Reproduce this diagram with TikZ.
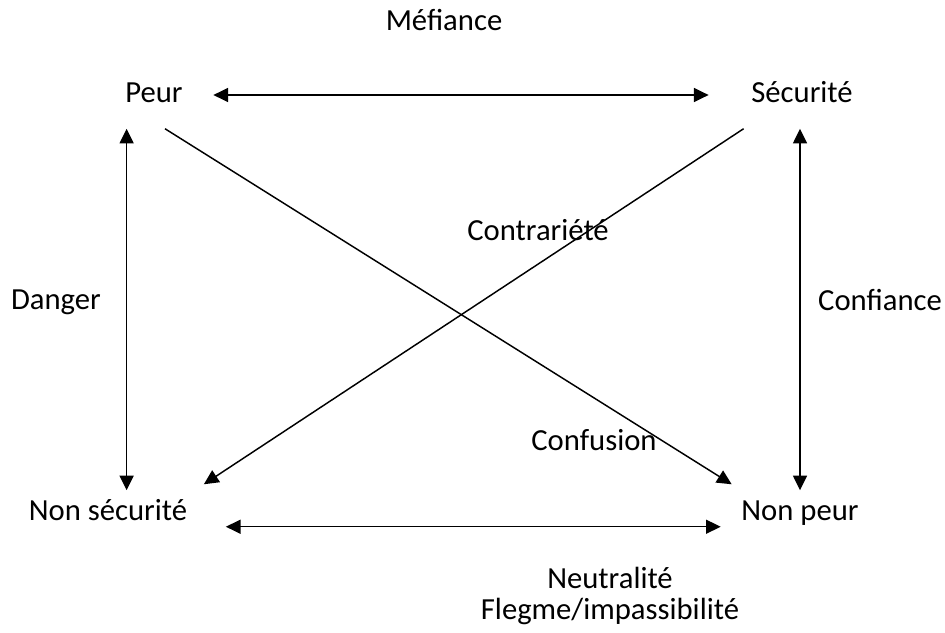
\documentclass[tikz,border=0pt]{standalone}
\usepackage{fontspec}
\setmainfont{Carlito}
\usepackage{tikz}
\usetikzlibrary{positioning}
\usetikzlibrary{arrows.meta}

\begin{document}
\begin{tikzpicture}[x = 0.75pt, y = -0.75pt, on grid,
                    line width = 1.1pt,
                    lbl/.style  = {inner sep = 0pt,
                                   text height = 15pt,
                                   text depth = 4.5pt,
                                   font = \fontsize{23}{28}\selectfont,
                                   text = black},
                    dbl/.style  = {{Triangle[length=11pt, width=10.5pt]}-{Triangle[length=11pt, width=10.5pt]}},
                    sgl/.style  = {-{Triangle[length=11pt, width=10.5pt]}}]

\useasboundingbox (0,0) rectangle (945,632);

\node[lbl] (peur)   at (154,95)  {Peur};
\node[lbl] (secu)   at (802,95)  {Sécurité};
\node[lbl] (nsecu)  at (108,513) {Non sécurité};
\node[lbl] (npeur)  at (800,513) {Non peur};

\node[lbl] (mef)    at (444,23)  {Méfiance};
\node[lbl] (danger) at (56,302)  {Danger};
\node[lbl] (conf)   at (880,303) {Confiance};
\node[lbl] (contr)  at (538,233) {Contrariété};
\node[lbl] (confu)  at (594,443) {Confusion};

\node[lbl] (neutr)  at (610,581) {Neutralité};
\node[lbl] (flegme) [below = 23.25pt of neutr] {Flegme/impassibilité};

\draw[dbl, shorten <= 22.5pt, shorten >= 31.5pt] (peur.east) -- (secu.west);
\draw[dbl, shorten <= 28.5pt, shorten >= 15pt] (nsecu.south east) -- (npeur.south west);

\draw[dbl, shorten <= 15pt, shorten >= 6.75pt]
  ([xshift = 1.5pt]peur.south west) -- ([xshift = 1.5pt]peur.south west |- nsecu.north);
\draw[dbl, shorten <= 15pt, shorten >= 6.75pt]
  (secu.south -| npeur.north) -- (npeur.north);

\draw[sgl] ([shift = {(11,20)}]peur.south) -- ([shift = {(-9,-15)}]npeur.north west);
\draw[sgl] ([shift = {(-7,20)}]secu.south west) -- ([shift = {(16,-15)}]nsecu.north east);

\end{tikzpicture}
\end{document}
